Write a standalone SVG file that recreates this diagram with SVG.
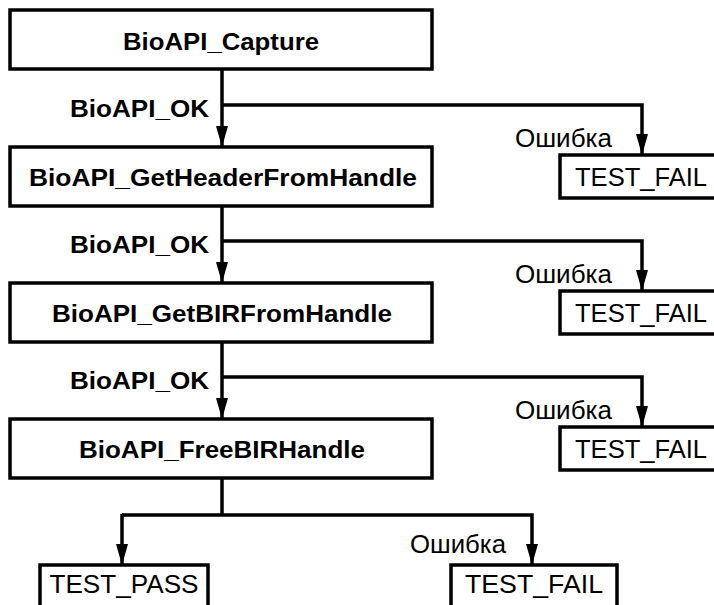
<svg xmlns="http://www.w3.org/2000/svg" width="714" height="605" viewBox="0 0 714 605">
<style>
  .box { fill: #ffffff; stroke: #000000; stroke-width: 3.5; }
  .bt { font-family: "Liberation Sans", Arial, sans-serif; font-size: 24px; font-weight: bold; fill: #000; }
  .rt { font-family: "Liberation Sans", Arial, sans-serif; font-size: 25px; fill: #000; }
  .ln { fill: none; stroke: #000000; stroke-width: 3.5; }
  .arr { fill: none; stroke: #000000; stroke-width: 3.5; marker-end: url(#ah); }
</style>
<defs>
  <marker id="ah" markerUnits="userSpaceOnUse" markerWidth="21" markerHeight="12" refX="21" refY="6" orient="auto">
    <path d="M0,0 L21,6 L0,12 z" fill="#000"/>
  </marker>
</defs>
<rect width="714" height="605" fill="#ffffff"/>

<g id="connectors">
  <path class="arr" d="M222,69 V147"/>
  <path class="arr" d="M222,105 H642 V155"/>
  <path class="arr" d="M222,206 V283"/>
  <path class="arr" d="M222,241 H642 V291"/>
  <path class="arr" d="M222,342 V419"/>
  <path class="arr" d="M222,377 H642 V427"/>
  <path class="ln" d="M222,478 V515"/>
  <path class="arr" d="M122,515 H532 V565"/>
  <path class="arr" d="M122,514 V565"/>
  <text class="bt" x="209" y="117" text-anchor="end" textLength="139" lengthAdjust="spacingAndGlyphs">BioAPI_OK</text>
  <text class="bt" x="209" y="253" text-anchor="end" textLength="139" lengthAdjust="spacingAndGlyphs">BioAPI_OK</text>
  <text class="bt" x="209" y="389" text-anchor="end" textLength="139" lengthAdjust="spacingAndGlyphs">BioAPI_OK</text>
  <text class="rt" x="515" y="147" textLength="97" lengthAdjust="spacingAndGlyphs">Ошибка</text>
  <text class="rt" x="515" y="283" textLength="97" lengthAdjust="spacingAndGlyphs">Ошибка</text>
  <text class="rt" x="515" y="419" textLength="97" lengthAdjust="spacingAndGlyphs">Ошибка</text>
  <text class="rt" x="410" y="553" textLength="96" lengthAdjust="spacingAndGlyphs">Ошибка</text>
</g>

<g id="capture">
  <rect class="box" x="10" y="10" width="422" height="59"/>
  <text class="bt" x="221" y="50" text-anchor="middle" textLength="196" lengthAdjust="spacingAndGlyphs">BioAPI_Capture</text>
</g>
<g id="getheader">
  <rect class="box" x="10" y="147" width="422" height="59"/>
  <text class="bt" x="223" y="186" text-anchor="middle" textLength="388" lengthAdjust="spacingAndGlyphs">BioAPI_GetHeaderFromHandle</text>
</g>
<g id="getbir">
  <rect class="box" x="10" y="283" width="422" height="59"/>
  <text class="bt" x="222" y="322" text-anchor="middle" textLength="340" lengthAdjust="spacingAndGlyphs">BioAPI_GetBIRFromHandle</text>
</g>
<g id="freebir">
  <rect class="box" x="10" y="419" width="422" height="59"/>
  <text class="bt" x="222" y="458" text-anchor="middle" textLength="286" lengthAdjust="spacingAndGlyphs">BioAPI_FreeBIRHandle</text>
</g>

<g id="fail1">
  <rect class="box" x="560" y="155" width="200" height="43"/>
  <text class="rt" x="575" y="186" textLength="132" lengthAdjust="spacingAndGlyphs">TEST_FAIL</text>
</g>
<g id="fail2">
  <rect class="box" x="560" y="291" width="200" height="43"/>
  <text class="rt" x="575" y="322" textLength="132" lengthAdjust="spacingAndGlyphs">TEST_FAIL</text>
</g>
<g id="fail3">
  <rect class="box" x="560" y="427" width="200" height="43"/>
  <text class="rt" x="575" y="458" textLength="132" lengthAdjust="spacingAndGlyphs">TEST_FAIL</text>
</g>
<g id="pass">
  <rect class="box" x="40" y="565" width="168" height="60"/>
  <text class="rt" x="124" y="593" text-anchor="middle" textLength="149" lengthAdjust="spacingAndGlyphs">TEST_PASS</text>
</g>
<g id="fail4">
  <rect class="box" x="451" y="565" width="166" height="60"/>
  <text class="rt" x="534" y="593" text-anchor="middle" textLength="138" lengthAdjust="spacingAndGlyphs">TEST_FAIL</text>
</g>
</svg>
